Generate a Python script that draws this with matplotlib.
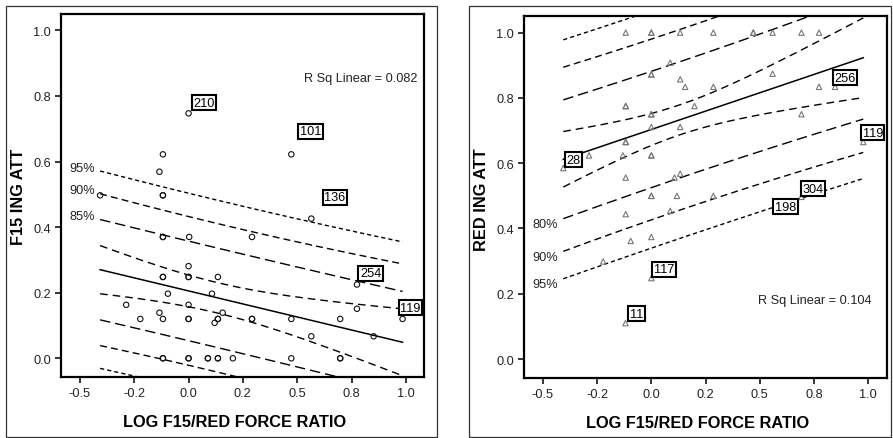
import numpy as np
import matplotlib
matplotlib.use("Agg")
import matplotlib.pyplot as plt
from matplotlib.patches import Rectangle

plt.rcParams['font.family'] = ['Liberation Sans', 'DejaVu Sans']

# ---------------- data: left panel (F15 ING ATT) ----------------
left_x = [0.000, -0.118, 0.473, -0.134, -0.407, -0.118, -0.118, 0.565,
          -0.118, -0.118, 0.003, 0.292, 0.000, -0.118, -0.118, 0.000, 0.000,
          0.135, -0.095, 0.108, -0.287, 0.000, -0.134, 0.157, -0.222, -0.118,
          0.000, 0.000, 0.135, 0.135, 0.120, 0.292, 0.292, 0.473, 0.698, 0.985,
          0.775, 0.775, 0.565, 0.852, -0.118, -0.118, 0.000, 0.000, 0.089,
          0.089, 0.135, 0.135, 0.204, 0.473, 0.698, 0.698]
left_y = [0.747, 0.622, 0.622, 0.569, 0.497, 0.497, 0.497, 0.426,
          0.370, 0.370, 0.370, 0.370, 0.281, 0.248, 0.248, 0.248, 0.248,
          0.248, 0.197, 0.197, 0.163, 0.163, 0.139, 0.139, 0.120, 0.120,
          0.120, 0.120, 0.120, 0.120, 0.108, 0.120, 0.120, 0.120, 0.120, 0.120,
          0.151, 0.225, 0.067, 0.067, 0.000, 0.000, 0.000, 0.000, 0.000,
          0.000, 0.000, 0.000, 0.000, 0.000, 0.000, 0.000]
left_label_ids = ['210', '101', '136', '254', '119']
left_label_x = [0.000, 0.473, 0.565, 0.775, 0.985]
left_label_y = [0.747, 0.622, 0.426, 0.225, 0.120]
left_fit_intercept = 0.2055
left_fit_slope = -0.159
left_rsq = 0.082
left_band_names = ['95%', '90%', '85%', '']
left_band_hw_start = [0.301, 0.2315, 0.153, 0.0735]
left_band_hw_end = [0.306, 0.239, 0.155, 0.102]

# ---------------- data: right panel (RED ING ATT) ----------------
right_x = [-0.118, 0.000, 0.000, 0.133, 0.286, 0.470, 0.470, 0.559, 0.692,
           0.773, 0.087, 0.000, 0.000, 0.133, 0.156, 0.286, 0.559, 0.773,
           0.847, -0.118, -0.118, 0.199, 0.000, 0.000, 0.692, 0.000, 0.133,
           -0.118, -0.118, 0.977, -0.287, -0.131, 0.000, 0.000, -0.406,
           -0.118, 0.107, 0.133, 0.000, 0.000, 0.118, 0.286, 0.692, -0.118,
           0.087, -0.095, 0.000, -0.222, 0.000, -0.119]
right_y = [1.000, 1.000, 1.000, 1.000, 1.000, 1.000, 1.000, 1.000, 1.000,
           1.000, 0.908, 0.872, 0.872, 0.857, 0.834, 0.834, 0.874, 0.834,
           0.834, 0.775, 0.775, 0.775, 0.750, 0.750, 0.750, 0.711, 0.711,
           0.665, 0.665, 0.665, 0.624, 0.624, 0.624, 0.624, 0.585,
           0.556, 0.556, 0.568, 0.500, 0.500, 0.500, 0.500, 0.497, 0.444,
           0.454, 0.362, 0.374, 0.299, 0.248, 0.110]
right_label_ids = ['256', '28', '119', '304', '198', '117', '11']
right_label_x = [0.847, -0.406, 0.977, 0.692, 0.692, 0.000, -0.119]
right_label_y = [0.834, 0.585, 0.665, 0.497, 0.497, 0.248, 0.110]
right_fit_intercept = 0.7033
right_fit_slope = 0.2249
right_rsq = 0.104
right_band_names = ['95%', '90%', '80%', '']
right_band_hw_start = [0.366, 0.282, 0.182, 0.085]
right_band_hw_end = [0.370, 0.290, 0.188, 0.122]

x_center = 0.13
x_tick_values = [-0.5, -0.25, 0.0, 0.25, 0.5, 0.75, 1.0]
x_tick_labels = ['-0.5', '-0.2', '0.0', '0.2', '0.5', '0.8', '1.0']
y_tick_values = [0.0, 0.2, 0.4, 0.6, 0.8, 1.0]
y_tick_labels = ['0.0', '0.2', '0.4', '0.6', '0.8', '1.0']

# ---------------- styling / layout ----------------
PX = 72.0 / 100.0  # points per pixel
band_styles = [(0, (3.0, 2.2)), (0, (5.0, 3.0)), (0, (7.5, 3.6)), (0, (5.5, 3.6))]

fig = plt.figure(figsize=(8.93, 4.39), dpi=100)
W, H = 893.0, 439.0

def fig_rect(x0, y0, x1, y1):
    return [x0 / W, 1 - y1 / H, (x1 - x0) / W, (y1 - y0) / H]

# outer frames
for (fx0, fy0, fx1, fy1) in [(6, 7, 437, 437.5), (469, 7, 891, 437.5)]:
    fig.patches.append(Rectangle((fx0 / W, 1 - fy1 / H), (fx1 - fx0) / W, (fy1 - fy0) / H,
                                 transform=fig.transFigure, fill=False,
                                 ec='#333333', lw=0.9))

ax_l = fig.add_axes(fig_rect(61, 15, 424.3, 378.3))
ax_r = fig.add_axes(fig_rect(524, 17.3, 886.7, 379))


def band_halfwidth(x, hw0, hw1, x0, x1, m):
    d0 = (x0 - m) ** 2
    d1 = (x1 - m) ** 2
    B = (hw1 ** 2 - hw0 ** 2) / (d1 - d0)
    A = hw0 ** 2 - B * d0
    return np.sqrt(np.maximum(A + B * (x - m) ** 2, 0))


def draw_panel(ax, xs, ys, marker, mcolor, msize, intercept, slope, names, hw0s, hw1s,
               label_side, label_offset, lab_ids, lab_x, lab_y, lab_offsets,
               rsq, rsq_pos, ylabel, xlabel_coords, ylabel_coords):
    xs = np.asarray(xs)
    ys = np.asarray(ys)
    x0, x1 = xs.min(), xs.max()
    xx = np.linspace(x0, x1, 200)
    fit = intercept + slope * xx
    ax.plot(xx, fit, color='black', lw=1.1, zorder=3)
    for name, hw0, hw1, ls in zip(names, hw0s, hw1s, band_styles):
        hw = band_halfwidth(xx, hw0, hw1, x0, x1, x_center)
        ax.plot(xx, fit + hw, color='black', lw=1.0, linestyle=ls, zorder=2)
        ax.plot(xx, fit - hw, color='black', lw=1.0, linestyle=ls, zorder=2)
        if name:
            y_start = intercept + slope * x0 + label_side * hw0
            ax.text(x0 - 0.025, y_start + label_offset, name, ha='right', va='center',
                    fontsize=9.2, color='#222222')
    ax.scatter(xs, ys, marker=marker, s=msize, facecolors='none',
               edgecolors=mcolor, linewidths=0.8, zorder=4)
    for lid, lx, ly, off in zip(lab_ids, lab_x, lab_y, lab_offsets):
        ax.annotate(lid, (lx, ly), xytext=(off[0] * PX, -off[1] * PX),
                    textcoords='offset points', ha='center', va='center',
                    fontsize=9.2, zorder=6,
                    bbox=dict(boxstyle='square,pad=0.12', fc='white', ec='black', lw=1.5))
    ax.text(rsq_pos[0], rsq_pos[1], 'R Sq Linear = %.3f' % rsq, ha='right', va='center',
            fontsize=9.2, color='#222222')

    ax.set_xlim(-0.587, 1.085)
    ax.set_ylim(-0.058, 1.05)
    ax.set_xticks(x_tick_values)
    ax.set_xticklabels(x_tick_labels)
    ax.set_yticks(y_tick_values)
    ax.set_yticklabels(y_tick_labels)
    ax.tick_params(direction='out', length=4.3, width=1.1, labelsize=9.2, pad=3,
                   colors='black', labelcolor='#222222')
    for sp in ax.spines.values():
        sp.set_linewidth(1.6)
    ax.set_xlabel('LOG F15/RED FORCE RATIO', fontsize=11.8, fontweight='bold')
    ax.set_ylabel(ylabel, fontsize=11.8, fontweight='bold')
    ax.xaxis.label.set_va('center')
    ax.yaxis.label.set_va('center')
    ax.xaxis.set_label_coords(*xlabel_coords)
    ax.yaxis.set_label_coords(*ylabel_coords)


draw_panel(ax_l, left_x, left_y, 'o', '#111111', 15,
           left_fit_intercept, left_fit_slope, left_band_names,
           left_band_hw_start, left_band_hw_end, +1, 0.01,
           left_label_ids, left_label_x, left_label_y,
           [(15.4, -10.8), (19, -23.2), (23.5, -21.3), (13.7, -11.2), (7.9, -11.3)],
           left_rsq, (1.052, 0.854), 'F15 ING ATT', (0.479, -0.122), (-0.118, 0.499))

draw_panel(ax_r, right_x, right_y, '^', '#777777', 15,
           right_fit_intercept, right_fit_slope, right_band_names,
           right_band_hw_start, right_band_hw_end, -1, -0.016,
           right_label_ids, right_label_x, right_label_y,
           [(9.8, -9.3), (10.4, -8.3), (9.5, -9.1), (11.9, -8.1), (-16.1, 10.1),
            (12.8, -8.7), (11, -9.3)],
           right_rsq, (1.016, 0.181), 'RED ING ATT', (0.478, -0.122), (-0.118, 0.497))

fig.savefig('out.png', dpi=100)
